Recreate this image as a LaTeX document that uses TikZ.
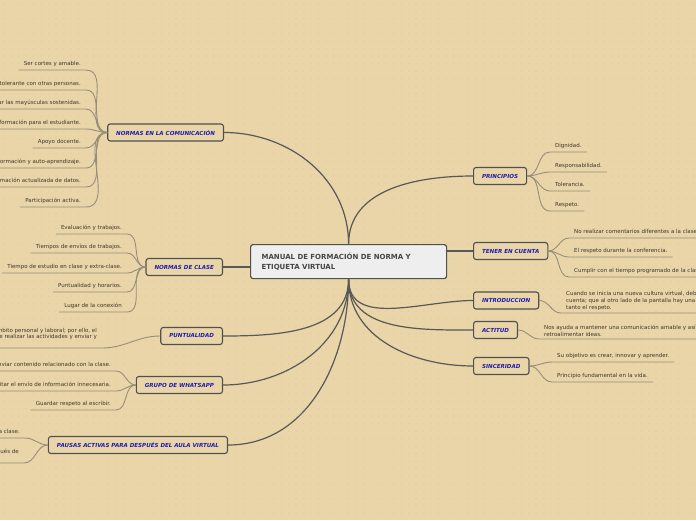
\documentclass[tikz,border=0pt]{standalone}
\usepackage{fontspec}
\setmainfont{DejaVu Sans}
\usepackage{tikz}
\usetikzlibrary{positioning}
\definecolor{bgtan}{RGB}{234,213,168}
\definecolor{bgdot}{RGB}{224,201,158}
\definecolor{boxline}{RGB}{80,80,80}
\definecolor{mainlink}{RGB}{88,88,88}
\definecolor{leafgray}{RGB}{150,142,122}
\definecolor{branchblue}{RGB}{30,30,170}
\definecolor{leaftext}{RGB}{60,55,45}
\definecolor{titlefill}{RGB}{238,238,238}
\definecolor{titletext}{RGB}{70,70,70}
\tikzset{
  titlebox/.style={rectangle, rounded corners=2.5pt, draw=boxline, line width=1.2pt,
                   fill=titlefill, text=titletext, align=left, text width=174pt,
                   minimum height=34pt, inner xsep=11pt, inner ysep=0pt,
                   font=\fontsize{7}{10}\selectfont\bfseries},
  branch/.style={rectangle, rounded corners=2.5pt, draw=boxline, line width=1.1pt,
                 fill=bgtan, text=branchblue, minimum height=17pt,
                 inner xsep=8.5pt, inner ysep=0pt,
                 font=\fontsize{5.55}{6.5}\selectfont\bfseries\itshape},
  branchL/.style={branch, anchor=east},
  branchR/.style={branch, anchor=west},
  leaf/.style={inner xsep=5pt, inner ysep=2.6pt, text=leaftext,
               font=\fontsize{5.5}{6.6}\selectfont},
  leafL/.style={leaf, anchor=south east, text height=3.9pt, text depth=1.5pt},
  leafR/.style={leaf, anchor=south west, text height=3.9pt, text depth=1.5pt},
  noteL/.style={leaf, anchor=south east, align=right},
  noteR/.style={leaf, anchor=south west, align=left},
  mainline/.style={draw=mainlink, line width=1.2pt},
  leafline/.style={draw=leafgray, line width=0.9pt},
}

\begin{document}
\begin{tikzpicture}[x=1pt,y=-1pt]
  \useasboundingbox (0,0) rectangle (696,520);
  \clip (0,0) rectangle (696,520);
  \fill[bgtan] (0,0) rectangle (696,520);
  \foreach \y in {3,10.5,...,520}
    \fill[bgdot] \foreach \x in {3,10.5,...,696} {(\x,\y) rectangle ++(1.2,1.2)};

  % Central topic
  \node[titlebox, anchor=north west] (title) at (250,244)
    {MANUAL DE FORMACIÓN DE NORMA Y\\ETIQUETA VIRTUAL};

  % Left branches
  \node[branchL] (comm) at (224,132.5) {NORMAS EN LA COMUNICACIÓN};
  \node[branchL] (clase) at (223,267) {NORMAS DE CLASE};
  \node[branchL] (puntual) at (223,336) {PUNTUALIDAD};
  \node[branchL] (whats) at (223,385) {GRUPO DE WHATSAPP};
  \node[branchL] (pausas) at (228,445) {PAUSAS ACTIVAS PARA DESPUÉS DEL AULA VIRTUAL};

  % Right branches
  \node[branchR] (princ) at (473,176) {PRINCIPIOS};
  \node[branchR] (tener) at (473,251) {TENER EN CUENTA};
  \node[branchR] (intro) at (473,300.5) {INTRODUCCION};
  \node[branchR] (actitud) at (473,330) {ACTITUD};
  \node[branchR] (sincer) at (473,366) {SINCERIDAD};

  % Links from the central topic
  \draw[mainline] (title.north) to[out=90,in=0] (comm.east);
  \draw[mainline] (title.north) to[out=90,in=180] (princ.west);
  \draw[mainline] (clase.east) -- (clase.east -| title.west);
  \draw[mainline] (tener.west) -- (tener.west -| title.east);
  \foreach \b in {puntual,whats,pausas}
    \draw[mainline] (title.south) to[out=-90,in=0] (\b.east);
  \foreach \b in {intro,actitud,sincer}
    \draw[mainline] (title.south) to[out=-90,in=180] (\b.west);

  % Leaves: normas en la comunicacion
  \foreach \y/\txt [count=\k] in {70/{Ser cortes y amable.}, 90/{Ser tolerante con otras personas.},
      109/{Evitar las mayúsculas sostenidas.}, 129/{Información para el estudiante.},
      148/{Apoyo docente.}, 168/{Información y auto-aprendizaje.},
      187/{Información actualizada de datos.}, 207/{Participación activa.}}{
    \node[leafL] (cm\k) at (86,\y) {\txt};
    \draw[leafline] (comm.west) to[out=180,in=0] (cm\k.south east) -- (cm\k.south west);
  }

  % Leaves: normas de clase
  \foreach \y/\txt [count=\k] in {234/{Evaluación y trabajos.}, 253/{Tiempos de envíos de trabajos.},
      273/{Tiempo de estudio en clase y extra-clase.}, 292/{Puntualidad y horarios.},
      312/{Lugar de la conexión}}{
    \node[leafL] (cl\k) at (127,\y) {\txt};
    \draw[leafline] (clase.west) to[out=180,in=0] (cl\k.south east) -- (cl\k.south west);
  }

  % Leaf: puntualidad
  \node[noteL] (pu1) at (102,348)
    {ámbito personal y laboral; por ello, el\\debe realizar las actividades y enviar y\\\mbox{}};
  \draw[leafline] (puntual.west) to[out=180,in=0] (pu1.south east) -- (pu1.south west);

  % Leaves: grupo de whatsapp
  \foreach \y/\txt [count=\k] in {371/{Enviar contenido relacionado con la clase.},
      391/{Evitar el envío de información innecesaria.}, 410/{Guardar respeto al escribir.}}{
    \node[leafL] (wa\k) at (116,\y) {\txt};
    \draw[leafline] (whats.west) to[out=180,in=0] (wa\k.south east) -- (wa\k.south west);
  }

  % Leaves: pausas activas
  \node[leafL] (pa1) at (25,438) {la clase.};
  \node[noteL] (pa2) at (24,463) {después de\\\mbox{}};
  \foreach \k in {1,2}
    \draw[leafline] (pausas.west) to[out=180,in=0] (pa\k.south east) -- (pa\k.south west);

  % Leaves: principios
  \foreach \y/\txt [count=\k] in {152/{Dignidad.}, 172/{Responsabilidad.},
      191/{Tolerancia.}, 211/{Respeto.}}{
    \node[leafR] (pr\k) at (550,\y) {\txt};
    \draw[leafline] (princ.east) to[out=0,in=180] (pr\k.south west) -- (pr\k.south east);
  }

  % Leaves: tener en cuenta
  \foreach \y/\txt [count=\k] in {238/{No realizar comentarios diferentes a la clase},
      257/{El respeto durante la conferencia.}, 277/{Cumplir con el tiempo programado de la clase}}{
    \node[leafR] (te\k) at (569,\y) {\txt};
    \draw[leafline] (tener.east) to[out=0,in=180] (te\k.south west) -- (te\k.south east);
  }

  % Leaves: introduccion, actitud
  \node[noteR] (in1) at (561,313)
    {Cuando se inicia una nueva cultura virtual, debemos\\cuenta; que al otro lado de la pantalla hay una\\tanto el respeto.};
  \draw[leafline] (intro.east) to[out=0,in=180] (in1.south west) -- (in1.south east);
  \node[noteR] (ac1) at (539,339)
    {Nos ayuda a mantener una comunicación amable y así\\retroalimentar ideas.};
  \draw[leafline] (actitud.east) to[out=0,in=180] (ac1.south west) -- (ac1.south east);

  % Leaves: sinceridad
  \foreach \y/\txt [count=\k] in {362/{Su objetivo es crear, innovar y aprender.},
      382/{Principio fundamental en la vida.}}{
    \node[leafR] (si\k) at (552,\y) {\txt};
    \draw[leafline] (sincer.east) to[out=0,in=180] (si\k.south west) -- (si\k.south east);
  }
\end{tikzpicture}
\end{document}
